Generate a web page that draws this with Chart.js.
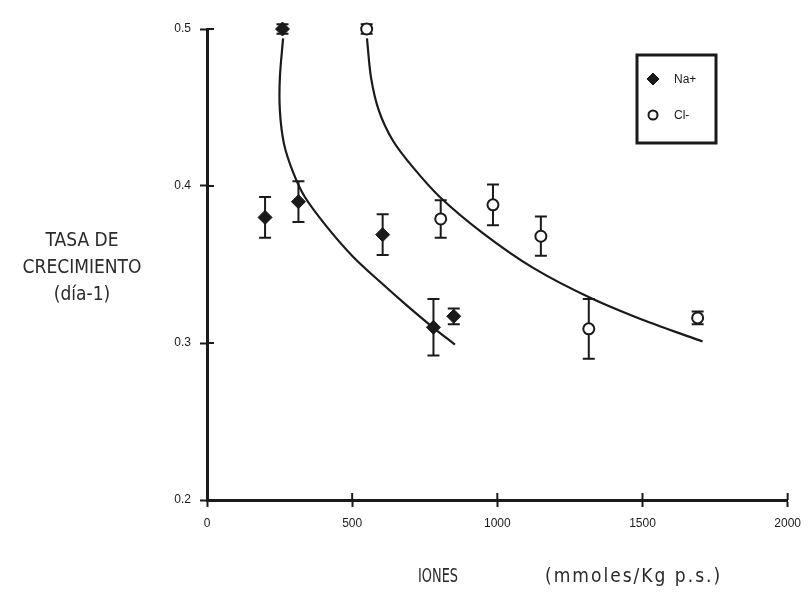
<!DOCTYPE html>
<html>
<head>
<meta charset="utf-8">
<script src="https://cdn.jsdelivr.net/npm/chart.js@4.4.1/dist/chart.umd.min.js"></script>
<style>
  html, body { margin: 0; padding: 0; background: #fff; }
  #wrap { width: 810px; height: 593px; }
</style>
</head>
<body>
<div id="wrap"><canvas id="c" width="810" height="593"></canvas></div>
<script>
// ---- data ----
const naX   = [260, 200, 315, 605, 780, 850];
const naY   = [0.500, 0.380, 0.390, 0.369, 0.310, 0.317];
const naErr = [0.003, 0.013, 0.013, 0.013, 0.018, 0.005];

const clX   = [550, 805, 985, 1150, 1315, 1690];
const clY   = [0.500, 0.379, 0.388, 0.368, 0.309, 0.316];
const clErr = [0.003, 0.012, 0.013, 0.0125, 0.019, 0.004];

const naFitX = [262, 251, 251, 265, 296, 337, 413, 503, 596, 688, 778, 854];
const naFitY = [0.494, 0.469, 0.448, 0.427, 0.409, 0.393, 0.374, 0.355, 0.339, 0.324, 0.310, 0.299];

const clFitX = [551, 565, 592, 640, 709, 802, 950, 1122, 1318, 1525, 1707];
const clFitY = [0.494, 0.469, 0.448, 0.429, 0.412, 0.393, 0.370, 0.348, 0.329, 0.313, 0.301];

const xTicks = [0, 500, 1000, 1500, 2000];
const yTicks = [0.2, 0.3, 0.4, 0.5];

const seriesNames = ['Na+', 'Cl-'];
const yTitleLines = ['TASA DE', 'CRECIMIENTO', '(día-1)'];
const xTitleParts = ['IONES', '(mmoles/Kg p.s.)'];

// ---- build datasets ----
const pts = (xs, ys) => xs.map((x, i) => ({ x: x, y: ys[i] }));
const INK = '#1a1a1a';

const datasets = [
  { label: 'fitNa', data: pts(naFitX, naFitY), showLine: true, borderColor: INK, borderWidth: 2.2,
    pointRadius: 0, tension: 0.3, fill: false, order: 3 },
  { label: 'fitCl', data: pts(clFitX, clFitY), showLine: true, borderColor: INK, borderWidth: 2.2,
    pointRadius: 0, tension: 0.3, fill: false, order: 3 },
  { label: seriesNames[0], data: pts(naX, naY), err: naErr, showLine: false, pointStyle: 'rectRot',
    pointRadius: 7, backgroundColor: INK, borderColor: INK, borderWidth: 1, order: 1 },
  { label: seriesNames[1], data: pts(clX, clY), err: clErr, showLine: false, pointStyle: 'circle',
    pointRadius: 5.5, backgroundColor: '#fff', borderColor: INK, borderWidth: 2, order: 1 }
];

// error bars drawn through the chart's scales
const errorBars = {
  id: 'errorBars',
  beforeDatasetsDraw(chart) {
    const ctx = chart.ctx, xs = chart.scales.x, ys = chart.scales.y;
    ctx.save();
    ctx.strokeStyle = INK; ctx.lineWidth = 2;
    chart.data.datasets.forEach(ds => {
      if (!ds.err) return;
      ds.data.forEach((p, i) => {
        const px = xs.getPixelForValue(p.x);
        const top = ys.getPixelForValue(p.y + ds.err[i]);
        const bot = ys.getPixelForValue(p.y - ds.err[i]);
        ctx.beginPath();
        ctx.moveTo(px, top); ctx.lineTo(px, bot);
        ctx.moveTo(px - 6, top); ctx.lineTo(px + 6, top);
        ctx.moveTo(px - 6, bot); ctx.lineTo(px + 6, bot);
        ctx.stroke();
      });
    });
    ctx.restore();
  }
};

// tick marks crossing the axes, titles, legend box
const decor = {
  id: 'decor',
  beforeDraw(chart) {
    const ctx = chart.ctx;
    ctx.save(); ctx.fillStyle = '#fff'; ctx.fillRect(0, 0, chart.width, chart.height); ctx.restore();
  },
  afterDraw(chart) {
    const ctx = chart.ctx, xs = chart.scales.x, ys = chart.scales.y, a = chart.chartArea;
    ctx.save();
    ctx.strokeStyle = INK; ctx.lineWidth = 2;
    ys.ticks.forEach(t => {
      const py = ys.getPixelForValue(t.value);
      ctx.beginPath(); ctx.moveTo(a.left, py); ctx.lineTo(a.left + 7, py); ctx.stroke();
    });
    xs.ticks.forEach(t => {
      const px = xs.getPixelForValue(t.value);
      ctx.beginPath(); ctx.moveTo(px, a.bottom); ctx.lineTo(px, a.bottom - 7); ctx.stroke();
    });

    // y title (three lines, horizontal)
    ctx.fillStyle = '#2a2a2a';
    ctx.textAlign = 'center'; ctx.textBaseline = 'middle';
    ctx.font = '19px "DejaVu Sans Condensed", "Liberation Sans Narrow", sans-serif';
    const yLineY = [241, 268, 295];
    yTitleLines.forEach((s, i) => ctx.fillText(s, 82, yLineY[i]));

    // x title
    ctx.textAlign = 'left';
    ctx.fillText(xTitleParts[0], 418, 577, 40);
    ctx.letterSpacing = '2px';
    ctx.fillText(xTitleParts[1], 545, 577);
    ctx.letterSpacing = '0px';

    // legend box
    ctx.lineWidth = 3; ctx.strokeStyle = INK;
    ctx.strokeRect(637, 55, 79, 88);
    const items = chart.data.datasets.filter(d => d.err);
    const rowY = [79, 115];
    items.forEach((d, i) => {
      const cx = 653, cy = rowY[i];
      ctx.save();
      ctx.fillStyle = d.backgroundColor; ctx.strokeStyle = d.borderColor; ctx.lineWidth = d.borderWidth;
      Chart.helpers.drawPoint(ctx, { pointStyle: d.pointStyle, radius: d.pointStyle === 'circle' ? 4.5 : 6, borderWidth: d.borderWidth }, cx, cy);
      ctx.restore();
      ctx.fillStyle = INK; ctx.textAlign = 'left'; ctx.textBaseline = 'middle';
      ctx.font = '12px "Liberation Sans", Arial, sans-serif';
      ctx.fillText(d.label, 674, cy + 1);
    });
    ctx.restore();
  }
};

new Chart(document.getElementById('c'), {
  type: 'scatter',
  data: { datasets: datasets },
  options: {
    responsive: false,
    animation: false,
    devicePixelRatio: 1,
    clip: false,
    layout: { padding: { left: 0, top: 29, right: 22, bottom: 0 } },
    plugins: { legend: { display: false }, tooltip: { enabled: false } },
    scales: {
      x: {
        type: 'linear', min: 0, max: 2000,
        afterBuildTicks: s => { s.ticks = xTicks.map(v => ({ value: v })); },
        afterFit: s => { s.height = 93; },
        border: { display: true, color: INK, width: 3 },
        grid: { drawOnChartArea: false, color: INK, tickLength: 7, tickWidth: 2 },
        ticks: { color: INK, padding: 9, font: { size: 12, family: '"Liberation Sans", Arial, sans-serif' },
                 callback: v => String(v) }
      },
      y: {
        type: 'linear', min: 0.2, max: 0.5,
        afterBuildTicks: s => { s.ticks = yTicks.map(v => ({ value: v })); },
        afterFit: s => { s.width = 207; },
        border: { display: true, color: INK, width: 3 },
        grid: { drawOnChartArea: false, color: INK, tickLength: 7, tickWidth: 2 },
        ticks: { color: INK, padding: 9, font: { size: 12, family: '"Liberation Sans", Arial, sans-serif' },
                 callback: v => v.toFixed(1) }
      }
    }
  },
  plugins: [errorBars, decor]
});
</script>
</body>
</html>
